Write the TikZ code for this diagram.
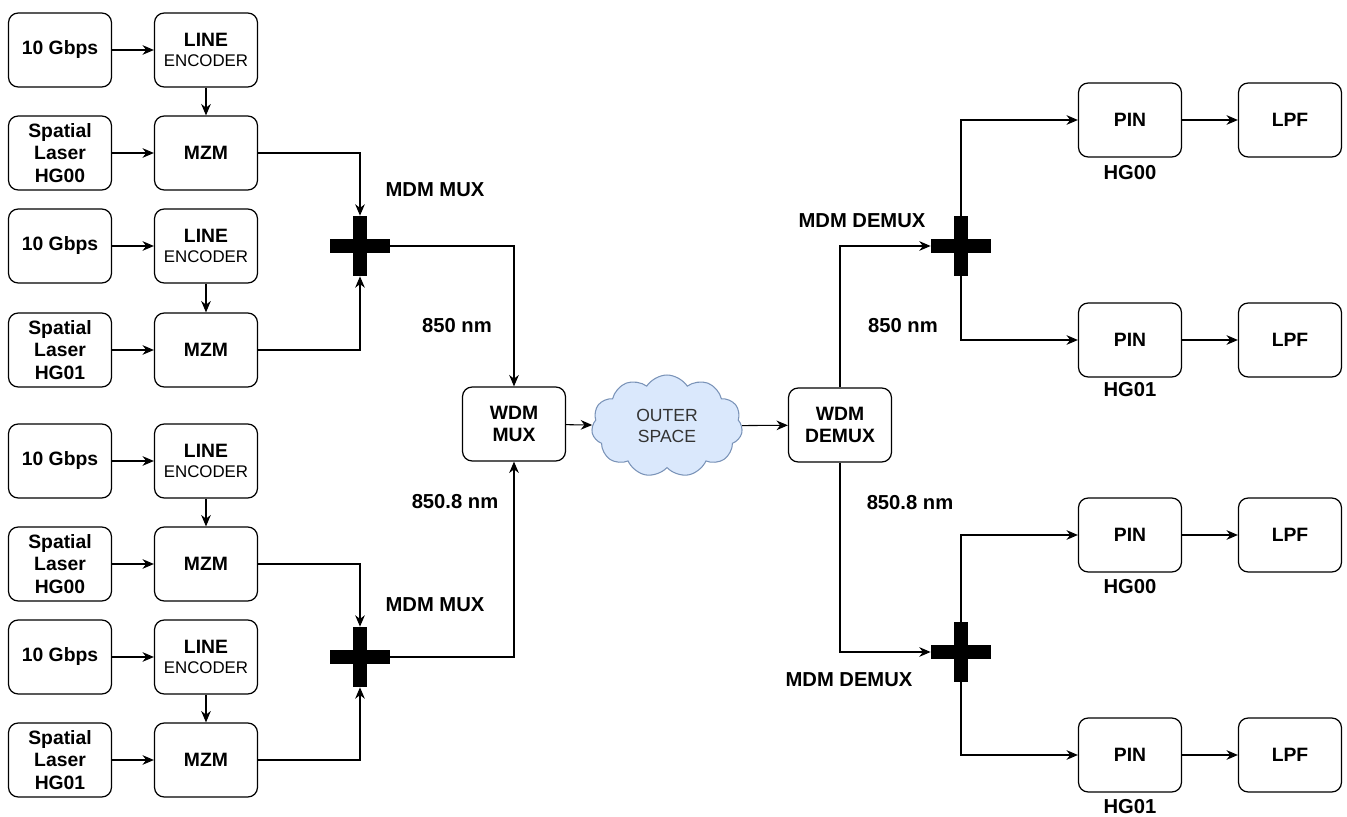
\documentclass[tikz,border=0pt]{standalone}
\usepackage{fontspec}
\setmainfont{Liberation Sans}
\usepackage{tikz}
\usetikzlibrary{arrows.meta,positioning,shapes.symbols}

\definecolor{cloudfill}{HTML}{DAE8FC}
\definecolor{cloudline}{HTML}{7A93B8}

\begin{document}
\begin{tikzpicture}[x=0.02cm, y=-0.02cm,
  font=\fontsize{11pt}{12.8pt}\selectfont\bfseries,
  block/.style={draw, rounded corners=5.5pt, line width=0.7pt, align=center,
    minimum width=2.06cm, minimum height=1.48cm, inner sep=0pt},
  muxcross/.style={minimum width=1.2cm, minimum height=1.2cm, inner sep=0pt,
    path picture={
      \fill ([xshift=-0.14cm]path picture bounding box.north) rectangle ([xshift=0.14cm]path picture bounding box.south);
      \fill ([yshift=-0.135cm]path picture bounding box.west) rectangle ([yshift=0.135cm]path picture bounding box.east);}},
  flow/.style={-{Stealth[length=6.5pt,width=5.5pt]}, line width=0.6pt},
  lbl/.style={font=\fontsize{11.5pt}{13pt}\selectfont\bfseries}]
  % Rahmen
  \useasboundingbox (0,0) rectangle (1347,817);

  % Sender, Gruppe 1
  \node[block] (bits1) at (60,50) {10 Gbps};
  \node[block] (enc1) at (206,50) {LINE\\[-1.5pt]{\fontsize{9.6pt}{11pt}\selectfont\mdseries ENCODER}};
  \node[block] (laser1) at (60,153) {Spatial\\Laser\\HG00};
  \node[block] (mzm1) at (206,153) {MZM};
  % Sender, Gruppe 2
  \node[block] (bits2) at (60,246) {10 Gbps};
  \node[block] (enc2) at (206,246) {LINE\\[-1.5pt]{\fontsize{9.6pt}{11pt}\selectfont\mdseries ENCODER}};
  \node[block] (laser2) at (60,350) {Spatial\\Laser\\HG01};
  \node[block] (mzm2) at (206,350) {MZM};
  % Sender, Gruppe 3
  \node[block] (bits3) at (60,461) {10 Gbps};
  \node[block] (enc3) at (206,461) {LINE\\[-1.5pt]{\fontsize{9.6pt}{11pt}\selectfont\mdseries ENCODER}};
  \node[block] (laser3) at (60,564) {Spatial\\Laser\\HG00};
  \node[block] (mzm3) at (206,564) {MZM};
  % Sender, Gruppe 4
  \node[block] (bits4) at (60,657) {10 Gbps};
  \node[block] (enc4) at (206,657) {LINE\\[-1.5pt]{\fontsize{9.6pt}{11pt}\selectfont\mdseries ENCODER}};
  \node[block] (laser4) at (60,760) {Spatial\\Laser\\HG01};
  \node[block] (mzm4) at (206,760) {MZM};

  % MDM / WDM
  \node[muxcross] (mux1) at (360,246) {};
  \node[muxcross] (mux2) at (360,657) {};
  \node[lbl] (muxlbl1) at (435,190) {MDM MUX};
  \node[lbl] (muxlbl2) at (435,605) {MDM MUX};
  \node[lbl] (lam1) at (457,326) {850 nm};
  \node[lbl] (lam2) at (455,502) {850.8 nm};
  \node[block] (wdmmux) at (514,424) {WDM\\MUX};

  % Kanal
  \node[cloud, cloud puffs=11, cloud puff arc=115, aspect=1.5, draw=cloudline, fill=cloudfill,
    line width=0.6pt, minimum width=3.02cm, minimum height=2.04cm, align=center,
    font=\fontsize{10pt}{11.5pt}\selectfont, text=black!80] (space) at (667,426) {OUTER\\SPACE};

  % Empfaenger
  \node[block] (wdmdemux) at (840,425) {WDM\\DEMUX};
  \node[muxcross] (demux1) at (961,246) {};
  \node[muxcross] (demux2) at (961,652) {};
  \node[lbl] (demuxlbl1) at (862,221) {MDM DEMUX};
  \node[lbl] (demuxlbl2) at (849,680) {MDM DEMUX};
  \node[lbl] (lam3) at (903,326) {850 nm};
  \node[lbl] (lam4) at (910,503) {850.8 nm};

  \node[block] (pin1) at (1130,120) {PIN};
  \node[block] (lpf1) at (1290,120) {LPF};
  \node[block] (pin2) at (1130,340) {PIN};
  \node[block] (lpf2) at (1290,340) {LPF};
  \node[block] (pin3) at (1130,535) {PIN};
  \node[block] (lpf3) at (1290,535) {LPF};
  \node[block] (pin4) at (1130,755) {PIN};
  \node[block] (lpf4) at (1290,755) {LPF};
  \node[lbl] (hg1) at (1130,173) {HG00};
  \node[lbl] (hg2) at (1130,390) {HG01};
  \node[lbl] (hg3) at (1130,587) {HG00};
  \node[lbl] (hg4) at (1130,807) {HG01};

  % Verbindungen links
  \draw[flow] (bits1) -- (enc1);
  \draw[flow] (enc1) -- (mzm1);
  \draw[flow] (laser1) -- (mzm1);
  \draw[flow] (bits2) -- (enc2);
  \draw[flow] (enc2) -- (mzm2);
  \draw[flow] (laser2) -- (mzm2);
  \draw[flow] (bits3) -- (enc3);
  \draw[flow] (enc3) -- (mzm3);
  \draw[flow] (laser3) -- (mzm3);
  \draw[flow] (bits4) -- (enc4);
  \draw[flow] (enc4) -- (mzm4);
  \draw[flow] (laser4) -- (mzm4);
  \draw[flow] (mzm1) -| (mux1);
  \draw[flow] (mzm2) -| (mux1);
  \draw[flow] (mzm3) -| (mux2);
  \draw[flow] (mzm4) -| (mux2);
  \draw[flow] (mux1) -| (wdmmux);
  \draw[flow] (mux2) -| (wdmmux);

  % Verbindungen Mitte
  \draw[flow] (wdmmux) -- (space);
  \draw[flow] (space) -- (wdmdemux);

  % Verbindungen rechts
  \draw[flow] (wdmdemux) |- (demux1);
  \draw[flow] (wdmdemux) |- (demux2);
  \draw[flow] (demux1) |- (pin1);
  \draw[flow] (demux1) |- (pin2);
  \draw[flow] (demux2) |- (pin3);
  \draw[flow] (demux2) |- (pin4);
  \draw[flow] (pin1) -- (lpf1);
  \draw[flow] (pin2) -- (lpf2);
  \draw[flow] (pin3) -- (lpf3);
  \draw[flow] (pin4) -- (lpf4);
\end{tikzpicture}
\end{document}
